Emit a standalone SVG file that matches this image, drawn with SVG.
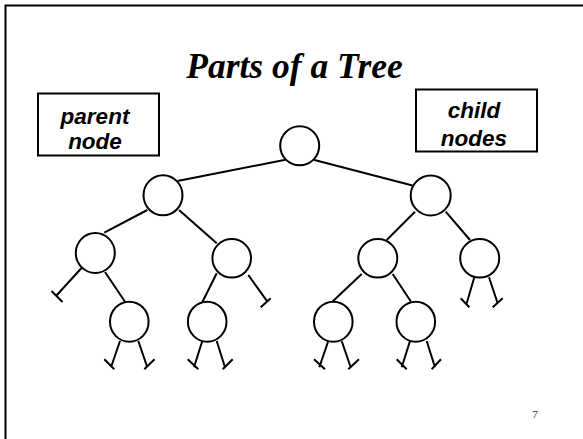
<svg xmlns="http://www.w3.org/2000/svg" width="583" height="439" viewBox="0 0 583 439">
  <style>
    .frame { fill: none; stroke: #000; stroke-width: 2; }
    .title { font-family: "Liberation Serif", "Times New Roman", serif; font-weight: bold; font-style: italic; font-size: 35.5px; fill: #000; }
    .label { font-family: "Liberation Sans", Arial, sans-serif; font-weight: bold; font-style: italic; font-size: 22.5px; fill: #000; }
    .box { fill: #fff; stroke: #000; stroke-width: 2; }
    .node { fill: #fff; stroke: #000; stroke-width: 2; }
    .edge { fill: none; stroke: #000; stroke-width: 2; stroke-linecap: butt; }
    .page { font-family: "Liberation Serif", "Times New Roman", serif; font-size: 11px; fill: #333; }
  </style>

  <rect width="583" height="439" fill="#fff"/>
  <!-- slide frame: top and left edges -->
  <path class="frame" d="M5.5,439 V5.5 H583"/>

  <text class="title" x="294.5" y="77.5" text-anchor="middle">Parts of a Tree</text>

  <g id="parent-label">
    <rect class="box" x="38" y="93.5" width="121" height="62"/>
    <text class="label" x="95" y="124" text-anchor="middle">parent</text>
    <text class="label" x="95" y="149" text-anchor="middle">node</text>
  </g>
  <g id="child-label">
    <rect class="box" x="416" y="89.5" width="121" height="62"/>
    <text class="label" x="474" y="118" text-anchor="middle">child</text>
    <text class="label" x="474" y="146" text-anchor="middle">nodes</text>
  </g>

  <!-- connectors: parent-child edges and empty (null) links ending in a tick -->
  <g id="connectors" class="edge">
    <line x1="285.5" y1="159.8" x2="177.5" y2="181"/>
    <line x1="313.5" y1="159.8" x2="412.5" y2="185.5"/>
    <line x1="147.3" y1="210" x2="104.3" y2="232.7"/>
    <line x1="179" y1="210" x2="216.7" y2="243.3"/>
    <line x1="415" y1="211.7" x2="386.7" y2="240"/>
    <line x1="445.7" y1="211.7" x2="470" y2="240"/>
    <line x1="105" y1="272" x2="125" y2="301.7"/>
    <line x1="216.7" y1="273.3" x2="202.3" y2="302.3"/>
    <line x1="361.7" y1="274" x2="332.3" y2="301.7"/>
    <line x1="392.7" y1="274" x2="411" y2="301.7"/>

    <!-- null links -->
    <path d="M81.8,267.8 L56,296 M51.5,291 L62.5,302"/>
    <path d="M248.3,275 L266.7,300.7 M260.7,307.3 L270.7,298.3"/>
    <path d="M474.3,277.3 L466.7,303.3 M460.7,298.3 L469.3,307.3"/>
    <path d="M489,277.3 L497.3,302.3 M492.7,307.3 L502.7,298.3"/>

    <path d="M120,341 L111,367.3 M104.3,359.3 L114.3,369.3"/>
    <path d="M138.3,341 L147.3,367.3 M144.3,369.3 L154.5,359.3"/>
    <path d="M202.3,341 L194,367.3 M187.7,359.3 L198.3,369.3"/>
    <path d="M216.7,341 L225,367.3 M222.7,369.3 L232.7,359.3"/>
    <path d="M328.3,341 L319.3,367.3 M314,359.3 L325,369.3"/>
    <path d="M341.7,341 L350.7,367.3 M348.3,369.3 L359,359.3"/>
    <path d="M410,341 L401.7,367.3 M396.7,359.3 L406.7,369.3"/>
    <path d="M426.7,341 L435,367.3 M431.7,369.3 L441,359.3"/>
  </g>

  <g id="root"><ellipse class="node" cx="299.7" cy="145.8" rx="19.5" ry="19.5"/></g>
  <g id="n-l"><ellipse class="node" cx="163" cy="195.3" rx="19.5" ry="20"/></g>
  <g id="n-r"><ellipse class="node" cx="430.7" cy="195.5" rx="20" ry="20"/></g>
  <g id="n-ll"><ellipse class="node" cx="95.3" cy="253" rx="19.5" ry="20"/></g>
  <g id="n-lr"><ellipse class="node" cx="231.7" cy="258.3" rx="19.3" ry="19.3"/></g>
  <g id="n-rl"><ellipse class="node" cx="377.8" cy="258.3" rx="19.5" ry="19.3"/></g>
  <g id="n-rr"><ellipse class="node" cx="479.7" cy="258.3" rx="19.5" ry="19.3"/></g>
  <g id="n-llr"><ellipse class="node" cx="129.3" cy="321.7" rx="19.3" ry="20"/></g>
  <g id="n-lrl"><ellipse class="node" cx="207.2" cy="321.7" rx="19.3" ry="20"/></g>
  <g id="n-rll"><ellipse class="node" cx="333.3" cy="321.7" rx="19.3" ry="20"/></g>
  <g id="n-rlr"><ellipse class="node" cx="415.8" cy="321.7" rx="19.3" ry="20"/></g>

  <text class="page" x="535" y="418" text-anchor="middle">7</text>
</svg>
